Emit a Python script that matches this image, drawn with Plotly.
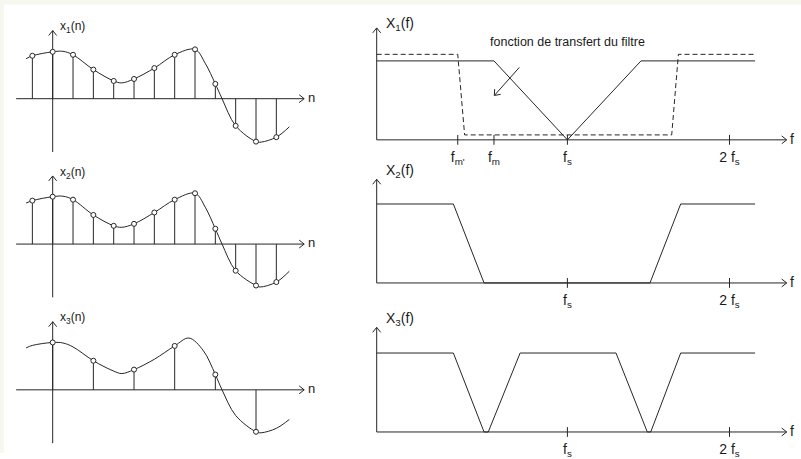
import math
import plotly.graph_objects as go

W, H = 801, 459

# ---- discrete-time signals (left column) ----
n_full = list(range(-1, 12))
n_even = [0, 2, 4, 6, 8, 10]

x1_samples = [0.87, 0.95, 0.89, 0.59, 0.36, 0.40, 0.62, 0.89, 1.00, 0.30, -0.55, -0.87, -0.78]
x1_curve_n = [-1.31, -1, 0, 0.5, 1, 2, 3, 3.4, 4, 5, 6, 7, 7.5, 8, 8.33, 9, 10, 10.25, 11, 11.64]
x1_curve_a = [0.81, 0.87, 0.95, 0.96, 0.89, 0.59, 0.36, 0.32, 0.40, 0.62, 0.89, 1.00, 0.72, 0.30, 0.0,
              -0.55, -0.87, -0.88, -0.78, -0.57]

x2_samples = [0.88, 0.96, 0.90, 0.59, 0.37, 0.41, 0.64, 0.90, 1.03, 0.31, -0.54, -0.84, -0.77]
x2_curve_n = [-1.31, -1, 0, 0.5, 1, 2, 3, 3.4, 4, 5, 6, 7, 7.5, 8, 8.33, 9, 10, 10.2, 11, 11.64]
x2_curve_a = [0.83, 0.88, 0.96, 0.97, 0.90, 0.59, 0.37, 0.34, 0.41, 0.64, 0.90, 1.03, 0.75, 0.31, 0.0,
              -0.54, -0.84, -0.87, -0.77, -0.55]

x3_samples = [0.96, 0.59, 0.41, 0.89, 0.31, -0.85]
x3_curve_n = [-1.31, -1, 0, 0.5, 1, 2, 3, 3.4, 4, 5, 6, 6.7, 7.4, 8, 8.33, 9, 10, 10.25, 11, 11.64]
x3_curve_a = [0.85, 0.90, 0.96, 0.95, 0.87, 0.59, 0.38, 0.33, 0.41, 0.62, 0.89, 1.05, 0.80, 0.31, 0.0,
              -0.52, -0.85, -0.87, -0.78, -0.60]

# ---- spectra (right column), frequency in units of fs ----
X1_f = [0, 0.615, 1.0, 1.386, 1.984]
X1_a = [1, 1, 0, 1, 1]
filt_f = [0, 0.425, 0.461, 1.547, 1.582, 1.984]
filt_a = [1.083, 1.083, 0.0625, 0.0625, 1.083, 1.083]
X2_f = [0, 0.402, 0.563, 1.433, 1.594, 1.984]
X2_a = [1, 1, 0, 0, 1, 1]
X3_f = [0, 0.402, 0.563, 0.585, 0.752, 1.255, 1.419, 1.437, 1.594, 1.984]
X3_a = [1, 1, 0, 0, 1, 1, 0, 0, 1, 1]

ticks_top = [0.425, 0.615, 1.0, 1.85]
ticks_top_text = ["f<sub>m'</sub>", "f<sub>m</sub>", "f<sub>s</sub>", "2 f<sub>s</sub>"]
ticks_low = [1.0, 1.85]
ticks_low_text = ["f<sub>s</sub>", "2 f<sub>s</sub>"]

INK = "#262626"
TXT = "#1a1a1a"
FONT = "Liberation Sans, Arial, sans-serif"

fig = go.Figure()


def px_domain_x(x0, x1):
    return [x0 / W, x1 / W]


def px_domain_y(top, bottom):
    return [1 - bottom / H, 1 - top / H]


layout_axes = {}

# left panels: n -> pixel = 52.7 + 20.33 n ; amplitude 1 = 50 px
L_X0, L_X1, L_ORG, L_STEP, L_AMP = 8, 322, 52.7, 20.33, 50.0
left_xrange = [(L_X0 - L_ORG) / L_STEP, (L_X1 - L_ORG) / L_STEP]
left_baselines = [100, 247.3, 395]

# right panels: f -> pixel = 376.7 + 190.7 f ; amplitude 1 = 80 px
R_X0, R_X1, R_ORG, R_STEP, R_AMP = 370, 798, 376.7, 190.7, 80.0
right_xrange = [(R_X0 - R_ORG) / R_STEP, (R_X1 - R_ORG) / R_STEP]
right_baselines = [141.7, 286.7, 437.7]
right_tops = [1.4175, 1.3125, 1.325]
R_LOW = -0.06

for i, b in enumerate(left_baselines):
    k = i + 1
    sx = "" if k == 1 else str(k)
    layout_axes[f"xaxis{sx}"] = dict(domain=px_domain_x(L_X0, L_X1), range=left_xrange,
                                      visible=False, anchor=f"y{sx}")
    layout_axes[f"yaxis{sx}"] = dict(domain=px_domain_y(b - 75, b + 60), range=[-1.2, 1.5],
                                      visible=False, anchor=f"x{sx}")

for i, b in enumerate(right_baselines):
    k = i + 4
    sx = str(k)
    tv = ticks_top if i == 0 else ticks_low
    tt = ticks_top_text if i == 0 else ticks_low_text
    layout_axes[f"xaxis{sx}"] = dict(domain=px_domain_x(R_X0, R_X1), range=right_xrange,
                                      anchor=f"y{sx}", showline=False, showgrid=False,
                                      zeroline=False, ticks="", tickvals=tv, ticktext=tt,
                                      tickfont=dict(family=FONT, size=14, color=TXT),
                                      ticklabelstandoff=2)
    layout_axes[f"yaxis{sx}"] = dict(domain=px_domain_y(b - 125, b - R_LOW * R_AMP),
                                      range=[R_LOW, 1.5625], visible=False, anchor=f"x{sx}")


def line(xr, yr, xs, ys, dash=None, width=1):
    fig.add_trace(go.Scatter(x=xs, y=ys, mode="lines", xaxis=xr, yaxis=yr,
                             line=dict(color=INK, width=width, dash=dash),
                             hoverinfo="skip", showlegend=False))


def arrow(xr, yr, tail, tip, sx, sy, back=5.0, half=4.0):
    """Shaft from tail to tip plus an open chevron head (sizes in px)."""
    dxp = (tip[0] - tail[0]) * sx
    dyp = (tip[1] - tail[1]) * sy
    L = math.hypot(dxp, dyp)
    ux, uy = dxp / L, dyp / L
    px_, py_ = -uy, ux
    a1 = (tip[0] + (-ux * back + px_ * half) / sx, tip[1] + (-uy * back + py_ * half) / sy)
    a2 = (tip[0] + (-ux * back - px_ * half) / sx, tip[1] + (-uy * back - py_ * half) / sy)
    line(xr, yr, [tail[0], tip[0], None, a1[0], tip[0], a2[0]],
         [tail[1], tip[1], None, a1[1], tip[1], a2[1]])


annotations = []

left_data = [
    (n_full, x1_samples, x1_curve_n, x1_curve_a, "x<sub>1</sub>(n)"),
    (n_full, x2_samples, x2_curve_n, x2_curve_a, "x<sub>2</sub>(n)"),
    (n_even, x3_samples, x3_curve_n, x3_curve_a, "x<sub>3</sub>(n)"),
]

for i, (ns, vals, cn, ca, label) in enumerate(left_data):
    k = i + 1
    xr = "x" if k == 1 else f"x{k}"
    yr = "y" if k == 1 else f"y{k}"
    # axes
    arrow(xr, yr, (-1.8, 0), (12.37, 0), L_STEP, L_AMP)
    arrow(xr, yr, (0, -1.08), (0, 1.38), L_STEP, L_AMP)
    # continuous signal
    fig.add_trace(go.Scatter(x=cn, y=ca, mode="lines", xaxis=xr, yaxis=yr,
                             line=dict(color=INK, width=1, shape="spline", smoothing=1.0),
                             hoverinfo="skip", showlegend=False))
    # stems
    stx, sty = [], []
    for n, v in zip(ns, vals):
        stx += [n, n, None]
        sty += [0, v, None]
    line(xr, yr, stx, sty)
    # sample markers
    fig.add_trace(go.Scatter(x=ns, y=vals, mode="markers", xaxis=xr, yaxis=yr,
                             marker=dict(symbol="circle", size=5, color="white",
                                         line=dict(color=INK, width=1)),
                             cliponaxis=False, hoverinfo="skip", showlegend=False))
    annotations.append(dict(xref=xr, yref=yr, x=0.97, y=1.45, text=label, showarrow=False,
                            font=dict(family=FONT, size=12, color=TXT)))
    annotations.append(dict(xref=xr, yref=yr, x=12.73, y=0.03, text="n", showarrow=False,
                            font=dict(family=FONT, size=13, color=TXT)))

right_data = [
    (X1_f, X1_a, "X<sub>1</sub>(f)", ticks_top, 1.465),
    (X2_f, X2_a, "X<sub>2</sub>(f)", ticks_low, 1.42),
    (X3_f, X3_a, "X<sub>3</sub>(f)", ticks_low, 1.434),
]

for i, (fs, amps, label, tv, ly) in enumerate(right_data):
    k = i + 4
    xr, yr = f"x{k}", f"y{k}"
    arrow(xr, yr, (0, 0), (2.15, 0), R_STEP, R_AMP)
    arrow(xr, yr, (0, 0), (0, right_tops[i]), R_STEP, R_AMP)
    line(xr, yr, fs, amps)
    if i == 0:
        line(xr, yr, filt_f, filt_a, dash="5px,3px")
    # tick marks crossing the frequency axis
    fig.add_trace(go.Scatter(x=tv, y=[0] * len(tv), mode="markers", xaxis=xr, yaxis=yr,
                             marker=dict(symbol="line-ns", size=7, line=dict(color=INK, width=1)),
                             cliponaxis=False, hoverinfo="skip", showlegend=False))
    annotations.append(dict(xref=xr, yref=yr, x=0.122, y=ly, text=label, showarrow=False,
                            font=dict(family=FONT, size=14, color=TXT)))
    annotations.append(dict(xref=xr, yref=yr, x=2.178, y=0.01, text="f", showarrow=False,
                            font=dict(family=FONT, size=14, color=TXT)))

# filter transfer-function callout
annotations.append(dict(xref="x4", yref="y4", x=1.003, y=1.234,
                        text="fonction de transfert du filtre", showarrow=False,
                        font=dict(family=FONT, size=12.5, color=TXT)))
arrow("x4", "y4", (0.748, 0.9175), (0.617, 0.5625), R_STEP, R_AMP)

# thin off-white frame strips along the top and left edges
shapes = [
    dict(type="rect", xref="paper", yref="paper", x0=0, x1=1, y0=1 - 4.5 / H, y1=1,
         fillcolor="#f6f7ee", line=dict(width=0), layer="below"),
    dict(type="rect", xref="paper", yref="paper", x0=0, x1=4 / W, y0=0, y1=1,
         fillcolor="#f6f7ee", line=dict(width=0), layer="below"),
]

fig.update_layout(width=W, height=H, margin=dict(l=0, r=0, t=0, b=0),
                  paper_bgcolor="white", plot_bgcolor="rgba(0,0,0,0)",
                  showlegend=False, annotations=annotations, shapes=shapes,
                  **layout_axes)

fig.write_html("out.html")
